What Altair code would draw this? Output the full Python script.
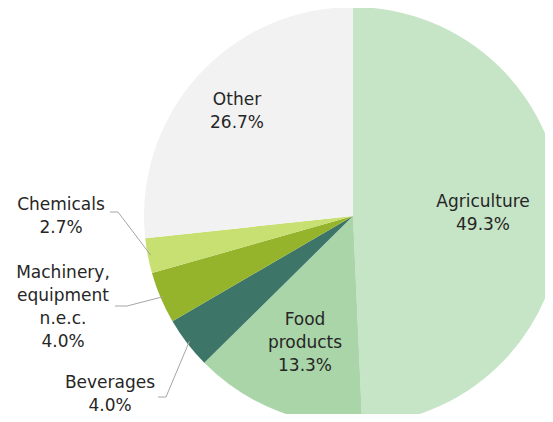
import math
import altair as alt
import pandas as pd

# ---- data ----
categories = ["Agriculture", "Food products", "Beverages",
              "Machinery, equipment n.e.c.", "Chemicals", "Other"]
shares = [49.3, 13.3, 4.0, 4.0, 2.7, 26.7]
label_names = ["Agriculture", "Food\nproducts", "Beverages",
               "Machinery,\nequipment\nn.e.c.", "Chemicals", "Other"]

# ---- styling / layout ----
colors = ["#c6e4c6", "#a9d5a9", "#3d7669", "#95b42b", "#c8df72", "#f2f2f2"]
CX, CY, R = 345, 208, 209
# offset of each label's first line (centre) from the pie centre, pixels
label_offsets = [(130, -14), (-48, 104), (-243, 167), (-290, 57), (-292, -11), (-116, -116)]
# outside labels: leader line text-end and elbow points (pixels)
leader_points = {2: [(150, 389), (158, 389)],
                 3: [(107, 298), (119, 298)],
                 4: [(102, 204), (110, 204)]}
FONT = "DejaVu Sans"

total = sum(shares)
slices = pd.DataFrame({"idx": range(len(categories)), "category": categories, "share": shares})

rows = []
cum = 0.0
mids = []
for i, (name, s) in enumerate(zip(label_names, shares)):
    mid = (cum + s / 2) / total * 2 * math.pi
    mids.append(mid)
    cum += s
    dx, dy = label_offsets[i]
    rows.append({"idx": i, "label": f"{name}\n{s:.1f}%", "lx": CX + dx, "ly": CY + dy})
labels = pd.DataFrame(rows)

line_rows = []
for i, pts in leader_points.items():
    edge = (CX + (R - 3) * math.sin(mids[i]), CY - (R - 3) * math.cos(mids[i]))
    for k, (px, py) in enumerate(pts + [edge]):
        line_rows.append({"idx": i, "ord": k, "px": px, "py": py})
leaders = pd.DataFrame(line_rows)

pie = alt.Chart(slices).mark_arc(radius=R).encode(
    theta=alt.Theta("share:Q", stack=True),
    color=alt.Color("category:N", scale=alt.Scale(domain=categories, range=colors), legend=None),
    order=alt.Order("idx:Q"),
    x=alt.value(CX),
    y=alt.value(CY),
)

lines = alt.Chart(leaders).mark_line(color="#a6a6a6", strokeWidth=1).encode(
    x=alt.X("px:Q", scale=None, axis=None),
    y=alt.Y("py:Q", scale=None, axis=None),
    detail="idx:N",
    order="ord:Q",
)

text = alt.Chart(labels).mark_text(
    lineBreak="\n", font=FONT, fontSize=17, color="#262626",
    align="center", baseline="middle", lineHeight=23,
).encode(
    x=alt.X("lx:Q", scale=None, axis=None),
    y=alt.Y("ly:Q", scale=None, axis=None),
    text="label:N",
)

chart = alt.layer(pie, lines, text).resolve_scale(x="independent", y="independent").properties(
    width=537, height=406, autosize=alt.AutoSizeParams(type="none"), padding=0
).configure_view(stroke=None)

chart.save("out.html", embed_options={"renderer": "svg", "actions": False})
